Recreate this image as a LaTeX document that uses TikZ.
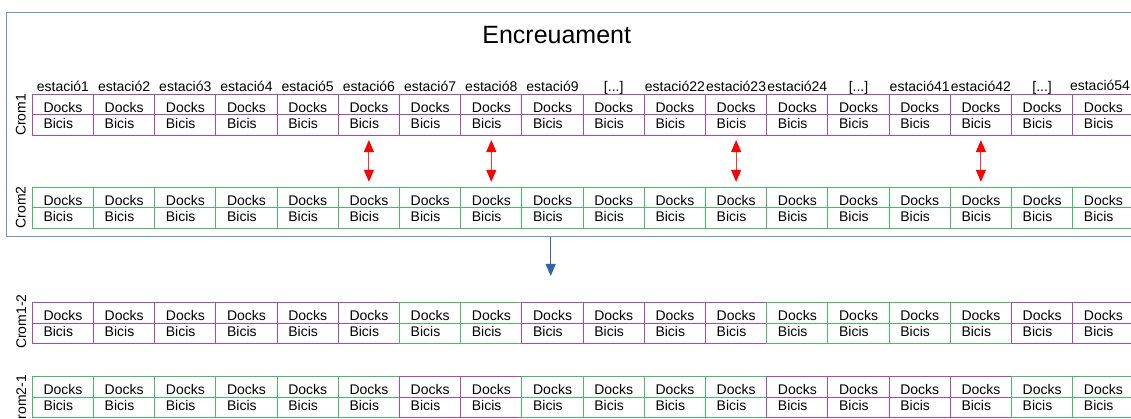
\documentclass[tikz,border=0pt]{standalone}
\usepackage{fontspec}
\setmainfont{Liberation Sans}
\usetikzlibrary{arrows.meta}
\definecolor{cellpurple}{HTML}{A94BAE}
\definecolor{cellgreen}{HTML}{4DB86A}
\definecolor{framecol}{HTML}{7393CB}
\definecolor{arrowblue}{HTML}{3465A4}
\definecolor{swapred}{HTML}{FF0000}
\begin{document}
\begin{tikzpicture}[x=1pt,y=-1pt,
  cell/.style={draw, line width=0.9pt, minimum width=61.2pt, minimum height=20.4pt,
    inner sep=0pt, outer sep=0pt, anchor=north west},
  celltext/.style={font=\fontsize{14}{16}\selectfont, inner sep=0pt, anchor=base west},
  stationlabel/.style={font=\fontsize{14}{16}\selectfont, inner sep=0pt, anchor=base},
  rowlabel/.style={font=\fontsize{14}{16}\selectfont, inner sep=0pt, rotate=90},
  swaparrow/.style={draw=swapred!80, line width=0.9pt,
    {Triangle[width=10pt,length=12pt,color=swapred]}-{Triangle[width=10pt,length=12pt,color=swapred]},
    shorten <=5pt, shorten >=5.5pt},
  mergearrow/.style={draw=arrowblue, line width=1pt, -{Triangle[width=10pt,length=12pt]}}
]
\useasboundingbox (0,0) rectangle (1131,419);
\clip (0,0) rectangle (1131,419);

% outer frame around the two parent chromosomes
\node[draw=framecol, line width=1pt, minimum width=1138.7pt, minimum height=224pt,
  anchor=north west, inner sep=0pt, outer sep=0pt] (frame) at (6.3,12.7) {};

\node[font=\fontsize{25}{30}\selectfont, inner sep=0pt, anchor=base] (title) at (556.7,44) {Encreuament};

% station names above the first chromosome
\foreach \i/\lab in {1/estació1,2/estació2,3/estació3,4/estació4,5/estació5,6/estació6,
  7/estació7,8/estació8,9/estació9,10/{[...]},11/estació22,12/estació23,13/estació24,
  14/{[...]},15/estació41,16/estació42,17/{[...]}}
  \node[stationlabel] (st\i) at ({32.3+61.2*(\i-0.5)},92) {\lab};
\node[stationlabel] (st18) at (1100,90.5) {estació54};

% one chromosome row: name, top edge, colours of the 18 genes (P purple, G green)
\foreach \r/\top/\cols in {
  c1/94.3/{P,P,P,P,P,P,P,P,P,P,P,P,P,P,P,P,P,P},
  c2/187.3/{G,G,G,G,G,G,G,G,G,G,G,G,G,G,G,G,G,G},
  c12/302.7/{P,P,P,P,P,P,G,G,P,P,P,P,G,G,G,G,P,P},
  c21/376.7/{G,G,G,G,G,G,P,P,G,G,G,G,P,P,P,P,G,G}} {
  \foreach \c [count=\i] in \cols {
    \if\c P\def\cc{cellpurple}\else\def\cc{cellgreen}\fi
    \node[cell, draw=\cc] (\r-\i-d) at ({32.3+61.2*(\i-1)},\top) {};
    \node[cell, draw=\cc] (\r-\i-b) at ({32.3+61.2*(\i-1)},\top+20.4) {};
    \node[celltext] (\r-\i-dt) at ({43.3+61.2*(\i-1)},\top+18) {Docks};
    \node[celltext] (\r-\i-bt) at ({43.3+61.2*(\i-1)},\top+34.2) {Bicis};
  }
}

% row names
\node[rowlabel] (lc1) at (20.8,114.8) {Crom1};
\node[rowlabel] (lc2) at (20.8,207.5) {Crom2};
\node[rowlabel] (lc12) at (21.2,321.7) {Crom1-2};
\node[rowlabel] (lc21) at (21.2,402) {Crom2-1};

% crossover points
\foreach \i in {6,8,12,16}
  \draw[swaparrow] (c1-\i-b.south) -- (c2-\i-d.north);

% arrow to the offspring
\coordinate (offspring) at (550.7,276);
\draw[mergearrow] (frame.south -| offspring) -- (offspring);
\end{tikzpicture}
\end{document}
